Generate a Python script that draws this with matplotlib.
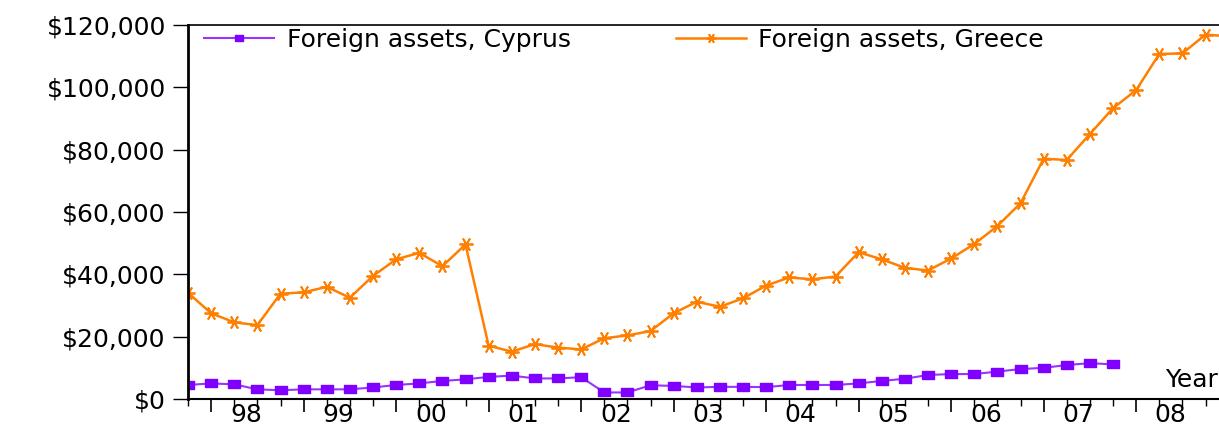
import numpy as np
import matplotlib
matplotlib.use("Agg")
import matplotlib.pyplot as plt
from matplotlib.ticker import FuncFormatter, FixedLocator

# quarterly data, first point = 1997Q4 (values in US$)
greece = [34100, 27500, 24600, 23700, 33800, 34200, 36000, 32500, 39500, 44800,
          46900, 42600, 49600, 17100, 15200, 17600, 16500, 15900, 19500, 20400,
          21800, 27500, 31200, 29600, 32300, 36400, 39000, 38400, 39300, 47100,
          44800, 42100, 41200, 45100, 49700, 55500, 62800, 77100, 76700, 85000,
          93300, 99100, 110700, 110900, 116900, 116400]
cyprus = [4500, 5000, 4700, 3100, 2800, 3100, 3100, 3100, 3700, 4500,
          5000, 5800, 6300, 7100, 7500, 6600, 6600, 7000, 2100, 2100,
          4400, 4200, 3700, 3900, 3900, 3800, 4500, 4500, 4500, 5000,
          5800, 6500, 7700, 8000, 8000, 8800, 9600, 10000, 10900, 11500,
          11100]
years = ["98", "99", "00", "01", "02", "03", "04", "05", "06", "07", "08"]

plt.rcParams['font.family'] = ['DejaVu Sans']
FS = 18

fig = plt.figure(figsize=(12.19, 4.26), dpi=100)
ax = fig.add_axes([188 / 1219, 27 / 426, 1 - 188 / 1219, 374 / 426])

xg = np.arange(len(greece))
xc = np.arange(len(cyprus))

# slightly wide square, like the original
rect = [(-1.35, -1), (1.35, -1), (1.35, 1), (-1.35, 1), (-1.35, -1)]

ax.plot(xc, cyprus, color='#9933ff', lw=1.5, marker=rect, ms=8,
        mfc='#7f00ff', mec='#7f00ff', label='Foreign assets, Cyprus')
ax.plot(xg, greece, color='#ff8000', lw=1.8, marker=(6, 2, 90), ms=10,
        mec='#ff8000', mew=1.3, label='Foreign assets, Greece')

ax.set_xlim(0, (1219 - 188) / 23.125)
ax.set_ylim(0, 120000)

ax.yaxis.set_major_locator(FixedLocator(np.arange(0, 120001, 20000)))
ax.yaxis.set_major_formatter(FuncFormatter(lambda v, p: "${:,.0f}".format(v)))
ax.tick_params(axis='y', direction='out', length=11, width=1, pad=5, labelsize=FS)

# year boundary ticks (Q1) long, quarter ticks short
ax.xaxis.set_major_locator(FixedLocator(np.arange(1, len(greece), 4)))
ax.xaxis.set_minor_locator(FixedLocator(np.arange(0, len(greece))))
ax.tick_params(axis='x', which='major', direction='out', length=9, width=1.2,
               labelbottom=False)
ax.tick_params(axis='x', which='minor', direction='out', length=5, width=1)

for i, y in enumerate(years):
    ax.text(1 + 4 * i + 1.5, -0.012, y, transform=ax.get_xaxis_transform(),
            ha='center', va='top', fontsize=FS)

ax.text(0.999, 0.02, "Year", transform=ax.transAxes, ha='right', va='bottom',
        fontsize=FS)

ax.spines['right'].set_visible(False)
ax.spines['left'].set_linewidth(2)
ax.spines['bottom'].set_linewidth(1.5)
ax.spines['top'].set_linewidth(1.2)

leg = ax.legend(loc='upper left', bbox_to_anchor=(0.006, 1.02), ncol=2,
                frameon=False, fontsize=FS, handlelength=2.8, handletextpad=0.5,
                columnspacing=4.2, markerscale=0.7, borderaxespad=0)

fig.savefig("out.png", dpi=100)
